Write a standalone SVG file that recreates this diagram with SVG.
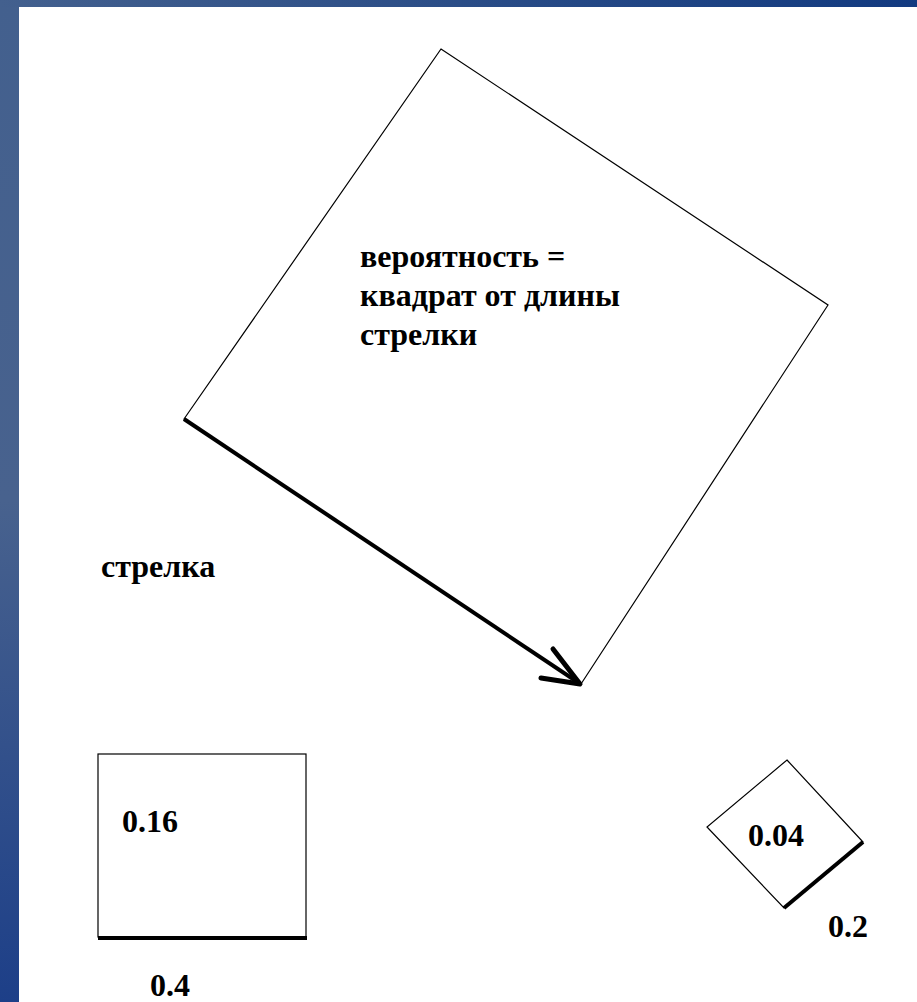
<svg xmlns="http://www.w3.org/2000/svg" width="917" height="1002" viewBox="0 0 917 1002">
<defs>
<linearGradient id="gl" x1="0" y1="0" x2="0" y2="1">
<stop offset="0" stop-color="#43608e"/>
<stop offset="0.5" stop-color="#48628e"/>
<stop offset="1" stop-color="#1d3f88"/>
</linearGradient>
<linearGradient id="gt" x1="0" y1="0" x2="1" y2="0">
<stop offset="0" stop-color="#43608e"/>
<stop offset="1" stop-color="#123a80"/>
</linearGradient>
</defs>
<style>
.thin{fill:none;stroke:#000;stroke-width:1.2;stroke-linejoin:miter}
.thick{fill:none;stroke:#000;stroke-width:4;stroke-linecap:butt}
.lbl{font-family:'Liberation Serif','DejaVu Serif',serif;font-weight:700;font-size:32px;fill:#000}
</style>
<rect x="0" y="0" width="917" height="1002" fill="#fff"/>
<rect x="0" y="0" width="19" height="1002" fill="url(#gl)"/>
<rect x="0" y="0" width="917" height="7" fill="url(#gt)"/>
<g id="big-square">
<polygon class="thin" points="441,49 828,305 581,684 184,419"/>
<text class="lbl" x="360" y="267">вероятность =</text>
<text class="lbl" x="360" y="306">квадрат от длины</text>
<text class="lbl" x="360" y="345">стрелки</text>
</g>
<g id="connectors">
<line class="thick" x1="184" y1="419" x2="579" y2="683"/>
<polyline fill="none" stroke="#000" stroke-width="5" stroke-linecap="round" stroke-linejoin="round" points="553,649 580,684 541,678"/>
</g>
<g id="arrow-label">
<text class="lbl" x="101" y="577">стрелка</text>
</g>
<g id="square-016">
<rect class="thin" x="98" y="754" width="208" height="183"/>
<line class="thick" x1="98" y1="938" x2="307" y2="938"/>
<text class="lbl" x="122" y="832">0.16</text>
<text class="lbl" x="150" y="996">0.4</text>
</g>
<g id="square-004">
<polygon class="thin" points="787,760 863,842 784,908 707,827"/>
<line class="thick" x1="784" y1="908" x2="863" y2="842"/>
<text class="lbl" x="748" y="846">0.04</text>
<text class="lbl" x="828" y="937">0.2</text>
</g>
</svg>
